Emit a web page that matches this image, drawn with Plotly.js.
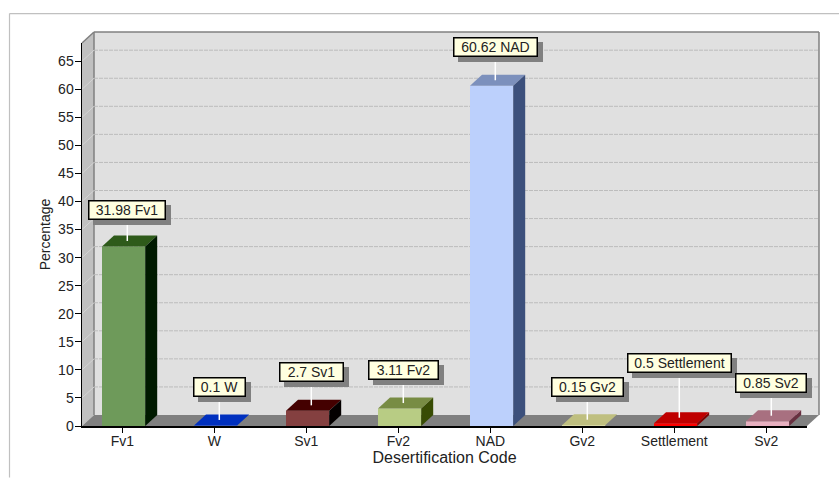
<!DOCTYPE html>
<html>
<head>
<meta charset="utf-8">
<script src="https://cdn.plot.ly/plotly-3.0.1.min.js"></script>
<style>html,body{margin:0;padding:0;background:#fff}</style>
</head>
<body>
<div id="chart" style="width:839px;height:478px"></div>
<script>
var categories = ["Fv1","W","Sv1","Fv2","NAD","Gv2","Settlement","Sv2"];
var percentages = [31.98,0.1,2.7,3.11,60.62,0.15,0.5,0.85];
var yTicks = [0,5,10,15,20,25,30,35,40,45,50,55,60,65];
var frontColors = ["#6e9a5a","#4070ff","#844040","#b8cc84","#bcd0fc","#ffffc0","#ff0000","#e8b0c0"];
var labelRise = [21,23,23,23,23,23,45,23];
var labelWidth = [73,48,60,66,80,68,100,67];

var W = 839, H = 478;
var L = 82, R = 807, T = 43, B = 426.5;
var depthX = 12, depthY = 11;
var pxPerCat = 92, cat0 = 122.3;
var pxPerVal = 5.62;
var xRange = [(L-cat0)/pxPerCat, (R-cat0)/pxPerCat];
var yRange = [0, (B-T)/pxPerVal];
var dx = depthX/pxPerCat, dy = depthY/pxPerVal;
var barLeft = -20.3/pxPerCat, barW = 43.2/pxPerCat;
var leaderOffset = 5/pxPerCat;
function px(x){return (x-L)/(R-L);}
function py(y){return (B-y)/(B-T);}
function shade(hex,amt){
  var n=parseInt(hex.slice(1),16);
  var c=[(n>>16)&255,(n>>8)&255,n&255].map(function(v){return Math.max(0,v-amt);});
  return "rgb("+c.join(",")+")";
}
function poly(pts,fill,line){
  var p=pts.map(function(q,i){return (i?"L":"M")+px(q[0])+","+py(q[1]);}).join("")+"Z";
  return {type:"path",xref:"paper",yref:"paper",path:p,fillcolor:fill,line:{width:line?1.5:0,color:line||fill},layer:"below"};
}
function seg(x0,y0,x1,y1,color,width,dash){
  return {type:"line",xref:"paper",yref:"paper",x0:px(x0),y0:py(y0),x1:px(x1),y1:py(y1),line:{color:color,width:width,dash:dash||"solid"},layer:"below"};
}
var shapes = [
  seg(9.5,13.5,839,13.5,"#c0c0c0",1.2),
  seg(9.5,13.5,9.5,478,"#c0c0c0",1.2),
  poly([[L+depthX,T-depthY],[R+depthX,T-depthY],[R+depthX,B-depthY],[L+depthX,B-depthY]],"#e0e0e0"),
  poly([[L,T],[L+depthX,T-depthY],[L+depthX,B-depthY],[L,B]],"#c0c0c0"),
  poly([[L,B],[L+depthX,B-depthY],[R+depthX,B-depthY],[R,B]],"#808080"),
  seg(L+depthX,T-depthY,R+depthX,T-depthY,"#808080",1.5),
  seg(L+depthX,T-depthY,L+depthX,B-depthY,"#808080",1.5),
  seg(R+depthX,T-depthY,R+depthX,B-depthY,"#808080",1.5),
  seg(L,T,L+depthX,T-depthY,"#808080",1.5)
];
yTicks.slice(1).forEach(function(v){
  var yp = B - v*pxPerVal;
  shapes.push(seg(L+depthX,yp-depthY,R+depthX,yp-depthY,"#bcbcbc",1,"4px,1px"));
  shapes.push(seg(L,yp,L+depthX,yp-depthY,"#d4d4d4",1));
});

var traces = [{
  type:"bar",
  x:categories.map(function(c,i){return i;}),
  y:percentages,
  width:barW,
  offset:barLeft,
  marker:{color:frontColors,line:{width:0}},
  hoverinfo:"skip"
}];
function polyTrace(xs,ys,color){
  return {type:"scatter",mode:"lines",x:xs,y:ys,fill:"toself",fillcolor:color,line:{width:0,color:color},cliponaxis:false,hoverinfo:"skip"};
}
var annotations = [];
percentages.forEach(function(v,i){
  var xl=i+barLeft, xr=xl+barW;
  traces.push(polyTrace([xl,xr,xr+dx,xl+dx,xl],[v,v,v+dy,v+dy,v],shade(frontColors[i],64)));
  traces.push(polyTrace([xr,xr+dx,xr+dx,xr,xr],[0,dy,v+dy,v,0],shade(frontColors[i],128)));
});
percentages.forEach(function(v,i){
  var xm=i+leaderOffset, y0=v+dy/2, y1=y0+labelRise[i]/pxPerVal;
  traces.push({type:"scatter",mode:"lines",x:[xm,xm],y:[y0,y1],line:{color:"#ffffff",width:1.5},cliponaxis:false,hoverinfo:"skip"});
  var txt=v+" "+categories[i];
  annotations.push({x:xm,y:y1,xref:"x",yref:"y",text:"&nbsp;",showarrow:false,xanchor:"center",yanchor:"bottom",
    xshift:5,yshift:-5,width:labelWidth[i],height:15,borderpad:1,borderwidth:1.5,
    bgcolor:"#808080",bordercolor:"#808080",font:{family:"Liberation Sans",size:14,color:"#808080"}});
  annotations.push({x:xm,y:y1,xref:"x",yref:"y",text:txt,showarrow:false,xanchor:"center",yanchor:"bottom",
    width:labelWidth[i],height:15,borderpad:1,borderwidth:1.5,
    bgcolor:"#ffffe0",bordercolor:"#000000",font:{family:"Liberation Sans",size:14,color:"#222222"}});
});

var layout = {
  width:W,height:H,
  margin:{l:L,r:W-R,t:T,b:H-B,pad:0},
  paper_bgcolor:"#ffffff",plot_bgcolor:"rgba(0,0,0,0)",
  showlegend:false,
  font:{family:"Liberation Sans",size:14,color:"#222222"},
  xaxis:{range:xRange,tickmode:"array",tickvals:categories.map(function(c,i){return i;}),ticktext:categories,
    showgrid:false,zeroline:false,showline:true,linecolor:"#000000",linewidth:1.5,
    ticks:"outside",ticklen:5,tickcolor:"#000000",tickwidth:1,ticklabelstandoff:-3,
    tickfont:{size:14,color:"#222222"},
    title:{text:"Desertification Code",font:{size:16,color:"#222222"},standoff:0}},
  yaxis:{range:yRange,tickmode:"array",tickvals:yTicks,ticktext:yTicks.map(String),
    showgrid:false,zeroline:false,showline:true,linecolor:"#000000",linewidth:1.5,
    ticks:"outside",ticklen:6,tickcolor:"#000000",tickwidth:1,ticklabelstandoff:-2,
    tickfont:{size:14,color:"#222222"},
    title:{text:"Percentage",font:{size:14,color:"#222222"},standoff:4}},
  shapes:shapes,
  annotations:annotations
};
Plotly.newPlot("chart",traces,layout,{displayModeBar:false,staticPlot:true});
</script>
</body>
</html>
